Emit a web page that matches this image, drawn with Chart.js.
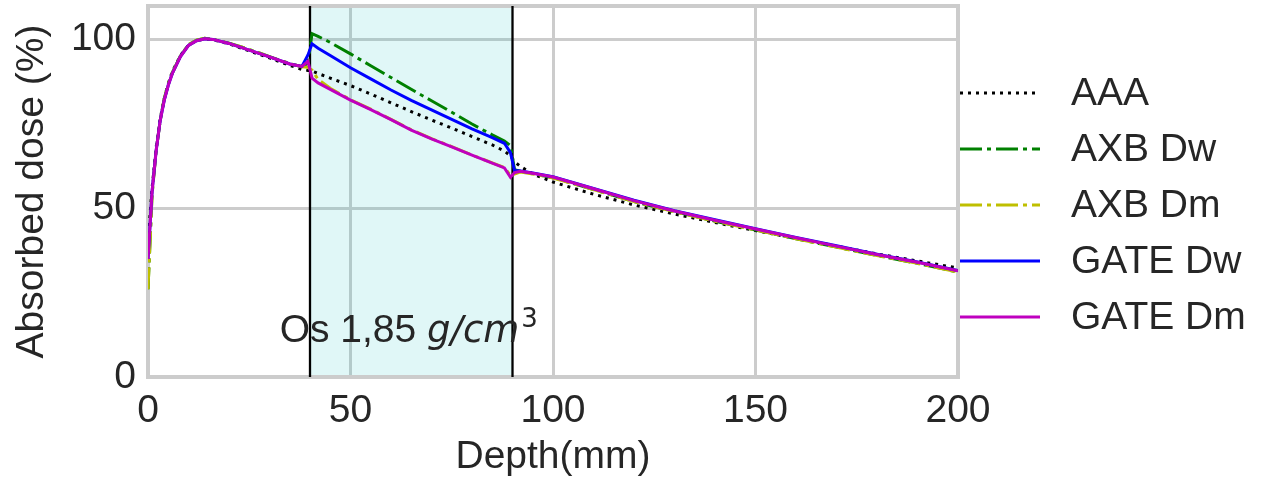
<!DOCTYPE html>
<html>
<head>
<meta charset="utf-8">
<script src="https://cdn.jsdelivr.net/npm/chart.js@4"></script>
<style>
  html, body { margin: 0; padding: 0; background: #fff; }
  canvas { display: block; }
</style>
</head>
<body>
<canvas id="pdd" width="1264" height="481"></canvas>
<script>
// Depth dose curves (depth in mm, dose in %)
const depth = [0, 0.5, 1, 2, 3, 4, 5, 6, 8, 10, 12, 14, 16, 20, 25, 30, 35, 38, 39.5, 40.5,
  42, 45, 50, 55, 60, 65, 70, 75, 80, 85, 88, 89.5, 90.5, 92, 95, 100, 110, 120, 130, 140,
  150, 160, 170, 180, 190, 200];

const aaa = [40, 48, 56, 68, 76.5, 82.5, 87, 90.5, 95.3, 98.4, 99.8, 100.2, 100.0, 98.8, 96.7, 94.6, 92.4, 91.2, 90.9, 90.7,
  90.0, 88.6, 86.4, 83.9, 81.3, 78.7, 76.2, 73.8, 71.3, 68.8, 67.0, 65.6, 63.8, 62.4, 60.2, 57.8, 54.2, 51.0, 48.3, 45.8,
  43.4, 41.1, 38.8, 36.5, 34.4, 32.3];
const axbDw = [26, 40, 54, 67, 76, 82.5, 86.8, 90.2, 95.2, 98.5, 99.9, 100.4, 100.1, 99.0, 97.1, 95.0, 92.9, 92.0, 93.0, 101.8,
  101.0, 99.2, 95.8, 92.3, 88.8, 85.3, 81.9, 78.5, 75.0, 71.8, 70.0, 68.6, 61.5, 61.0, 60.3, 59.1, 55.6, 52.0, 49.0, 46.2,
  43.6, 41.0, 38.5, 36.0, 33.7, 31.1];
const axbDm = [26, 40, 54, 67, 76, 82.5, 86.8, 90.2, 95.2, 98.5, 99.9, 100.4, 100.1, 99.0, 97.1, 95.0, 92.9, 92.0, 91.8, 91.0,
  88.2, 85.6, 82.2, 79.4, 76.4, 73.3, 70.7, 68.3, 65.8, 63.5, 62.1, 59.8, 60.2, 60.8, 60.2, 59.0, 55.6, 52.0, 49.0, 46.2,
  43.6, 41.0, 38.5, 36.0, 33.7, 31.1];
const gateDw = [35, 45, 55, 67, 76, 82, 86.5, 90, 95, 98.3, 99.7, 100.3, 100.1, 98.9, 96.9, 94.9, 92.8, 92.1, 95.5, 98.8,
  97.5, 95.3, 91.7, 88.4, 85.1, 82.0, 79.2, 76.4, 73.6, 71.0, 69.3, 66.5, 61.2, 61.1, 60.5, 59.4, 55.9, 52.4, 49.3, 46.6,
  44.0, 41.4, 38.9, 36.4, 34.1, 31.6];
const gateDm = [35, 45, 55, 67, 76, 82, 86.5, 90, 95, 98.3, 99.7, 100.3, 100.1, 98.9, 96.9, 94.9, 92.8, 92.1, 93.6, 88.6,
  87.2, 85.3, 82.1, 79.3, 76.3, 73.2, 70.6, 68.2, 65.8, 63.4, 62.0, 59.2, 60.6, 61.0, 60.4, 59.3, 55.8, 52.3, 49.2, 46.5,
  43.9, 41.3, 38.8, 36.3, 34.0, 31.5];

const seriesNames = ['AAA', 'AXB Dw', 'AXB Dm', 'GATE Dw', 'GATE Dm'];
const xTicks = [0, 50, 100, 150, 200];
const yTicks = [0, 50, 100];
const slab = [40, 90];          // bone insert, mm
const slabLabelPos = [32.5, 10.5];

const FONT = '"Liberation Sans", Arial, sans-serif';
const MATH = '"DejaVu Sans", sans-serif';
const FS = 39;
const TEXT = '#262626';
const GRID = '#cccccc';

const toPoints = vals => depth.map((d, i) => ({ x: d, y: vals[i] }));

const dotted = [3, 5];
const dashDot = [22, 5, 4, 5];

const datasets = [
  { label: seriesNames[0], data: toPoints(aaa), borderColor: '#000000', borderDash: dotted, order: 5 },
  { label: seriesNames[1], data: toPoints(axbDw), borderColor: '#008000', borderDash: dashDot, order: 4 },
  { label: seriesNames[2], data: toPoints(axbDm), borderColor: '#bfbf00', borderDash: dashDot, order: 3 },
  { label: seriesNames[3], data: toPoints(gateDw), borderColor: '#0000ff', order: 2 },
  { label: seriesNames[4], data: toPoints(gateDm), borderColor: '#bf00bf', order: 1 }
].map(ds => Object.assign({ borderWidth: 3, pointRadius: 0, tension: 0, fill: false }, ds));

// slab shading, border lines, frame and the material label
const overlays = {
  id: 'overlays',
  beforeDatasetsDraw(chart) {
    const { ctx, chartArea: a, scales: { x, y } } = chart;
    const x0 = x.getPixelForValue(slab[0]);
    const x1 = x.getPixelForValue(slab[1]);
    ctx.save();
    ctx.fillStyle = 'rgba(0, 191, 191, 0.12)';
    ctx.fillRect(x0, a.top, x1 - x0, a.bottom - a.top);

    ctx.strokeStyle = GRID;
    ctx.lineWidth = 4;
    ctx.strokeRect(a.left, a.top, a.right - a.left, a.bottom - a.top);

    ctx.strokeStyle = '#000';
    ctx.lineWidth = 2.3;
    [x0, x1].forEach(px => {
      ctx.beginPath();
      ctx.moveTo(px, a.top);
      ctx.lineTo(px, a.bottom);
      ctx.stroke();
    });

    // "Os 1,85 g/cm^3"
    let tx = x.getPixelForValue(slabLabelPos[0]);
    const ty = y.getPixelForValue(slabLabelPos[1]);
    ctx.fillStyle = TEXT;
    ctx.textBaseline = 'alphabetic';
    ctx.textAlign = 'left';
    ctx.font = FS + 'px ' + FONT;
    ctx.fillText('Os 1,85 ', tx, ty);
    tx += ctx.measureText('Os 1,85 ').width;
    ctx.font = 'italic 37px ' + MATH;
    ctx.fillText('g/cm', tx, ty);
    tx += ctx.measureText('g/cm').width + 2;
    ctx.font = '26px ' + MATH;
    ctx.fillText('3', tx, ty - 15);
    ctx.restore();
  },
  afterDraw(chart) {
    const { ctx, chartArea: a } = chart;
    ctx.save();
    ctx.font = FS + 'px ' + FONT;
    ctx.textBaseline = 'middle';
    ctx.textAlign = 'left';
    chart.data.datasets.forEach((ds, i) => {
      const ly = 93 + i * 56;
      ctx.strokeStyle = ds.borderColor;
      ctx.lineWidth = 3;
      ctx.setLineDash(ds.borderDash || []);
      ctx.beginPath();
      ctx.moveTo(a.right + 2, ly);
      ctx.lineTo(a.right + 82, ly);
      ctx.stroke();
      ctx.setLineDash([]);
      ctx.fillStyle = TEXT;
      ctx.fillText(ds.label, a.right + 113, ly + 1);
    });
    ctx.restore();
  }
};

new Chart(document.getElementById('pdd'), {
  type: 'line',
  data: { datasets },
  options: {
    responsive: false,
    animation: false,
    devicePixelRatio: 1,
    layout: { padding: { top: 6, right: 306, left: 0, bottom: 0 } },
    plugins: { legend: { display: false }, tooltip: { enabled: false } },
    scales: {
      x: {
        type: 'linear',
        min: 0,
        max: 200,
        afterFit: s => { s.height = 104; s.paddingLeft = 0; s.paddingRight = 0; },
        afterBuildTicks: s => { s.ticks = xTicks.map(v => ({ value: v })); },
        grid: { color: GRID, lineWidth: 3, drawTicks: false },
        border: { display: false },
        ticks: { color: TEXT, font: { family: FONT, size: FS }, padding: 11, maxRotation: 0 },
        title: { display: true, text: 'Depth(mm)', color: TEXT, font: { family: FONT, size: FS }, padding: { top: 0, bottom: 0 } }
      },
      y: {
        min: 0,
        max: 110,
        afterFit: s => { s.width = 148; s.paddingTop = 0; s.paddingBottom = 0; },
        afterBuildTicks: s => { s.ticks = yTicks.map(v => ({ value: v })); },
        grid: { color: GRID, lineWidth: 3, drawTicks: false },
        border: { display: false },
        ticks: { color: TEXT, font: { family: FONT, size: FS }, padding: 12 },
        title: { display: true, text: 'Absorbed dose (%)', color: TEXT, font: { family: FONT, size: FS }, padding: { top: 9, bottom: 0 } }
      }
    }
  },
  plugins: [overlays]
});
</script>
</body>
</html>
